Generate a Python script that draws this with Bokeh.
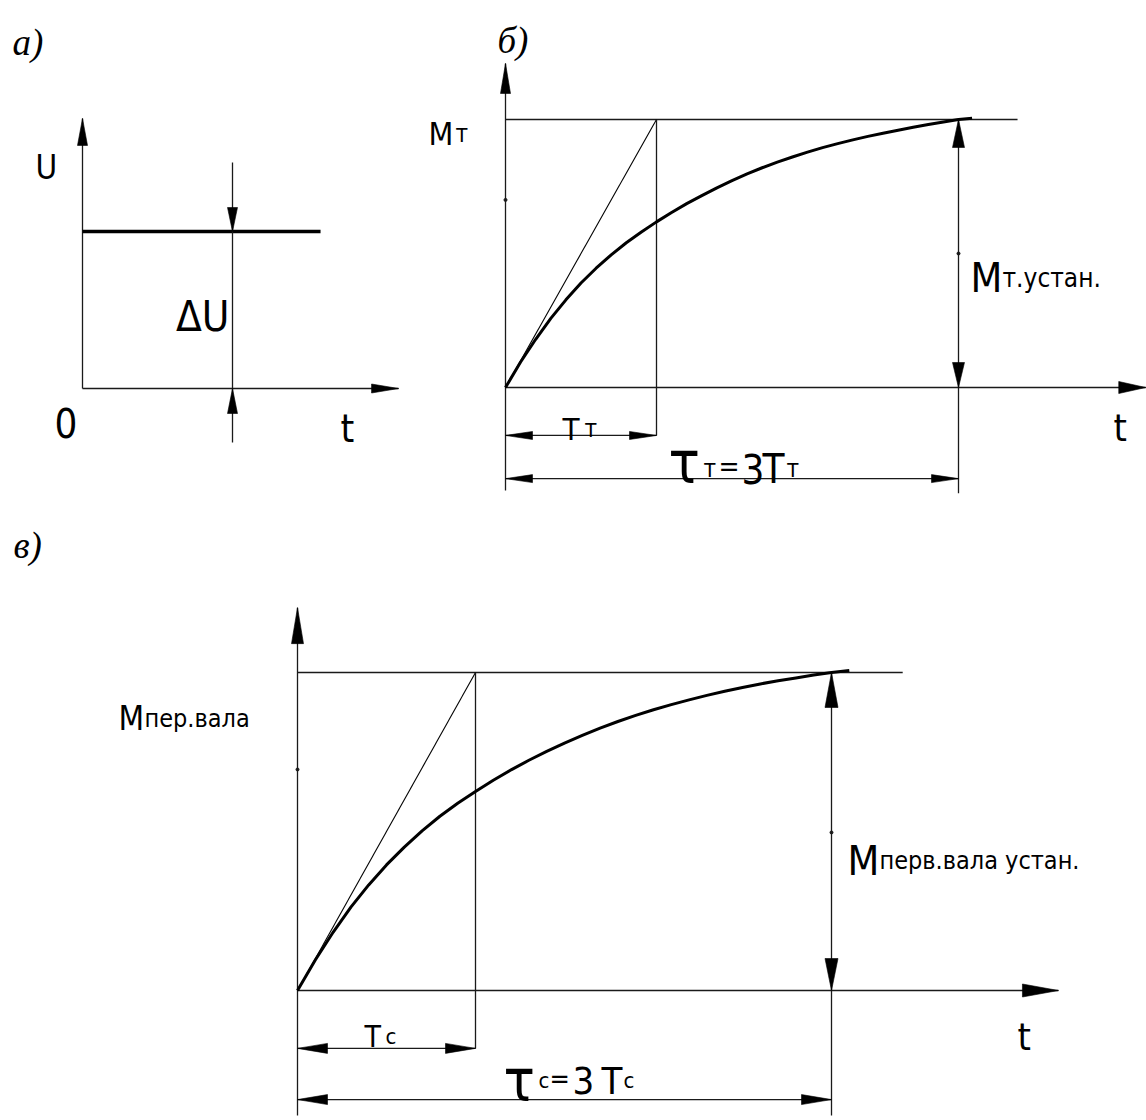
from bokeh.plotting import figure
from bokeh.layouts import column, row
from bokeh.models import Range1d
from bokeh.core.properties import value
from bokeh.embed import file_html
from bokeh.resources import INLINE

# ---------------- data ----------------
# а) step of the supply voltage
step_level = 1.0                 # ΔU (relative)
step_t = [0.0, 1.587]            # time span of the drawn step
step_u = [step_level, step_level]
du_mark_t = 1.0                  # time where ΔU is dimensioned

# б) heating torque M_T, time in units of T_T, torque relative to steady value
T_T = 1.0
tau_T = 3.0 * T_T
mt_t = [0.0, 0.1, 0.2, 0.3, 0.4, 0.5, 0.6, 0.7, 0.8, 0.9, 1.0, 1.1, 1.2, 1.3, 1.4, 1.5,
        1.6, 1.7, 1.8, 1.9, 2.0, 2.1, 2.2, 2.3, 2.4, 2.5, 2.6, 2.7, 2.8, 2.9, 3.0, 3.09]
mt_m = [0.0, 0.095, 0.18, 0.258, 0.327, 0.39, 0.445, 0.495, 0.54, 0.58, 0.618, 0.653,
        0.686, 0.716, 0.745, 0.772, 0.797, 0.82, 0.841, 0.86, 0.878, 0.895, 0.91, 0.924,
        0.937, 0.949, 0.96, 0.971, 0.981, 0.991, 1.0, 1.005]

# в) torque on the input shaft, time in units of T_c
T_c = 1.0
tau_c = 3.0 * T_c
mc_t = [0.0, 0.1, 0.2, 0.3, 0.4, 0.5, 0.6, 0.7, 0.8, 0.9, 1.0, 1.1, 1.2, 1.3, 1.4, 1.5,
        1.6, 1.7, 1.8, 1.9, 2.0, 2.1, 2.2, 2.3, 2.4, 2.5, 2.6, 2.7, 2.8, 2.9, 3.0, 3.1]
mc_m = [0.0, 0.096, 0.183, 0.262, 0.332, 0.395, 0.451, 0.502, 0.548, 0.589, 0.626, 0.661,
        0.694, 0.724, 0.752, 0.778, 0.802, 0.825, 0.846, 0.865, 0.883, 0.899, 0.914, 0.928,
        0.941, 0.953, 0.964, 0.974, 0.983, 0.992, 1.0, 1.006]

# ---------------- styling ----------------
SANS = "DejaVu Sans Condensed, Liberation Sans, sans-serif"
SERIF = "Liberation Serif"
THIN = 1.3
INK = "#1a1a1a"


class Panel:
    """A borderless figure whose data origin sits at page pixel (ox, oy)."""

    def __init__(self, left, top, width, height, ox, oy, sx, sy):
        self.ox, self.oy, self.sx, self.sy = ox, oy, sx, sy
        self.fig = figure(
            width=width, height=height,
            x_range=Range1d((left - ox) / sx, (left + width - ox) / sx),
            y_range=Range1d((oy - (top + height)) / sy, (oy - top) / sy),
            output_backend="svg", toolbar_location=None,
            x_axis_location=None, y_axis_location=None,
            min_border=0, outline_line_color=None,
            background_fill_color="white", border_fill_color="white",
        )
        self.fig.grid.visible = False
        self.heads_x, self.heads_y = [], []

    def at(self, gx, gy):
        return (gx - self.ox) / self.sx, (self.oy - gy) / self.sy

    def seg(self, x0, y0, x1, y1, width=THIN, color=INK):
        self.fig.segment(x0=[x0], y0=[y0], x1=[x1], y1=[y1],
                         line_width=width, line_color=color)

    def head(self, x, y, direction, length, width):
        L, W = length, width / 2.0
        sx, sy = self.sx, self.sy
        if direction == "up":
            xs = [x, x - W / sx, x + W / sx]
            ys = [y, y - L / sy, y - L / sy]
        elif direction == "down":
            xs = [x, x - W / sx, x + W / sx]
            ys = [y, y + L / sy, y + L / sy]
        elif direction == "right":
            xs = [x, x - L / sx, x - L / sx]
            ys = [y, y + W / sy, y - W / sy]
        else:
            xs = [x, x + L / sx, x + L / sx]
            ys = [y, y + W / sy, y - W / sy]
        self.heads_x.append(xs)
        self.heads_y.append(ys)

    def label(self, gx, gy, text, size, font=SANS, style="normal", align="left"):
        x, y = self.at(gx, gy)
        self.fig.text(x=[x], y=[y], text=[text], text_font=value(font),
                      text_font_size=f"{size}px", text_font_style=style,
                      text_align=align, text_baseline="alphabetic", text_color="black")

    def dot(self, x, y):
        self.fig.scatter(x=[x], y=[y], size=3, color=INK)

    def finish(self):
        self.fig.patches(self.heads_x, self.heads_y, fill_color="black",
                         line_color="black", line_width=0.6)
        return self.fig


# ---------------- а) ----------------
a = Panel(0, 0, 420, 500, ox=82, oy=388, sx=150, sy=157)
a_ytip, a_xtip = 1.72, 2.107
a.seg(0, 0, 0, a_ytip)
a.seg(0, 0, a_xtip, 0)
a.head(0, a_ytip, "up", 27, 10)
a.head(a_xtip, 0, "right", 27, 9)
a.fig.line(step_t, step_u, line_width=3.6, line_color="black")
a.seg(du_mark_t, -0.344, du_mark_t, 1.439)
a.head(du_mark_t, step_level, "down", 24, 10)
a.head(du_mark_t, 0, "up", 25, 10)
a.label(12, 42, "а)", 37, font=SERIF, style="italic")
a.label(35, 167, "U", 33)
a.label(229, 316, "ΔU", 42, align="right")
a.label(54, 422, "0", 40)
a.label(340, 428, "t", 39)

# ---------------- б) ----------------
b = Panel(420, 0, 726, 500, ox=505, oy=387, sx=151, sy=268)
b_ytip, b_xtip = 1.209, 4.24
b_dim_T, b_dim_tau, b_low = -0.179, -0.34, -0.395
b.seg(0, -0.384, 0, b_ytip)
b.seg(0, 0, b_xtip, 0)
b.head(0, b_ytip, "up", 30, 10)
b.head(b_xtip, 0, "right", 27, 12)
b.seg(0, 1.0, 3.391, 1.0)
b.seg(0, 0, T_T, 1.0, width=1.1, color="black")
b.seg(T_T, 1.0, T_T, b_dim_T)
b.seg(0, b_dim_T, T_T, b_dim_T)
b.head(0, b_dim_T, "left", 27, 8)
b.head(T_T, b_dim_T, "right", 27, 8)
b.seg(0, b_dim_tau, tau_T, b_dim_tau)
b.head(0, b_dim_tau, "left", 27, 8)
b.head(tau_T, b_dim_tau, "right", 27, 8)
b.seg(tau_T, 1.0, tau_T, b_low)
b.head(tau_T, 1.0, "up", 28, 12)
b.head(tau_T, 0, "down", 25, 12)
b.dot(tau_T, 0.5)
b.dot(0, 0.70)
b.fig.line(mt_t, mt_m, line_width=3, line_color="black", line_join="round")
b.label(497, 40, "б)", 37, font=SERIF, style="italic")
b.label(428, 133, "M", 32)
b.label(455, 133, "т", 24)
b.label(562, 428, "T", 31)
b.label(584, 428, "т", 24)
# τт = 3Tт
b.label(668, 462, "τ", 58)
b.label(703, 468, "т", 24)
b.label(718, 466, "=", 28)
b.label(741, 468, "3", 40)
b.label(762, 468, "T", 40)
b.label(786, 468, "т", 24)
b.label(970, 277, "M", 41)
b.label(1002, 277, "т.устан.", 26)
b.label(1113, 427, "t", 38)

# ---------------- в) ----------------
c = Panel(0, 500, 1146, 620, ox=297, oy=990, sx=178, sy=318)
c_ytip, c_xtip = 1.204, 4.275
c_dim_T, c_dim_tau, c_low = -0.182, -0.343, -0.393
c.seg(0, c_low, 0, c_ytip)
c.seg(0, 0, c_xtip, 0)
c.head(0, c_ytip, "up", 36, 12)
c.head(c_xtip, 0, "right", 36, 13)
c.seg(0, 1.0, 3.40, 1.0)
c.seg(0, 0, T_c, 1.0, width=1.1, color="black")
c.seg(T_c, 1.0, T_c, c_dim_T)
c.seg(0, c_dim_T, T_c, c_dim_T)
c.head(0, c_dim_T, "left", 30, 10)
c.head(T_c, c_dim_T, "right", 30, 10)
c.seg(0, c_dim_tau, tau_c, c_dim_tau)
c.head(0, c_dim_tau, "left", 30, 10)
c.head(tau_c, c_dim_tau, "right", 30, 10)
c.seg(tau_c, 1.0, tau_c, c_low)
c.head(tau_c, 1.0, "up", 35, 13)
c.head(tau_c, 0, "down", 32, 13)
c.dot(tau_c, 0.497)
c.dot(0, 0.695)
c.fig.line(mc_t, mc_m, line_width=3, line_color="black", line_join="round")
c.label(13, 545, "в)", 37, font=SERIF, style="italic")
c.label(118, 718, "M", 33)
c.label(144, 718, "пер.вала", 25)
c.label(364, 1036, "T", 30)
c.label(385, 1036, "c", 22)
# τc = 3 Tc
c.label(503, 1080, "τ", 58)
c.label(538, 1080, "c", 22)
c.label(549, 1078, "=", 27)
c.label(572, 1080, "3", 38)
c.label(601, 1080, "T", 38)
c.label(623, 1080, "c", 22)
c.label(847, 860, "M", 41)
c.label(879, 860, "перв.вала  устан.", 25)
c.label(1017, 1036, "t", 38)

layout = column(row(a.finish(), b.finish(), spacing=0), c.finish(), spacing=0)

with open("out.html", "w") as f:
    f.write(file_html(layout, INLINE))
